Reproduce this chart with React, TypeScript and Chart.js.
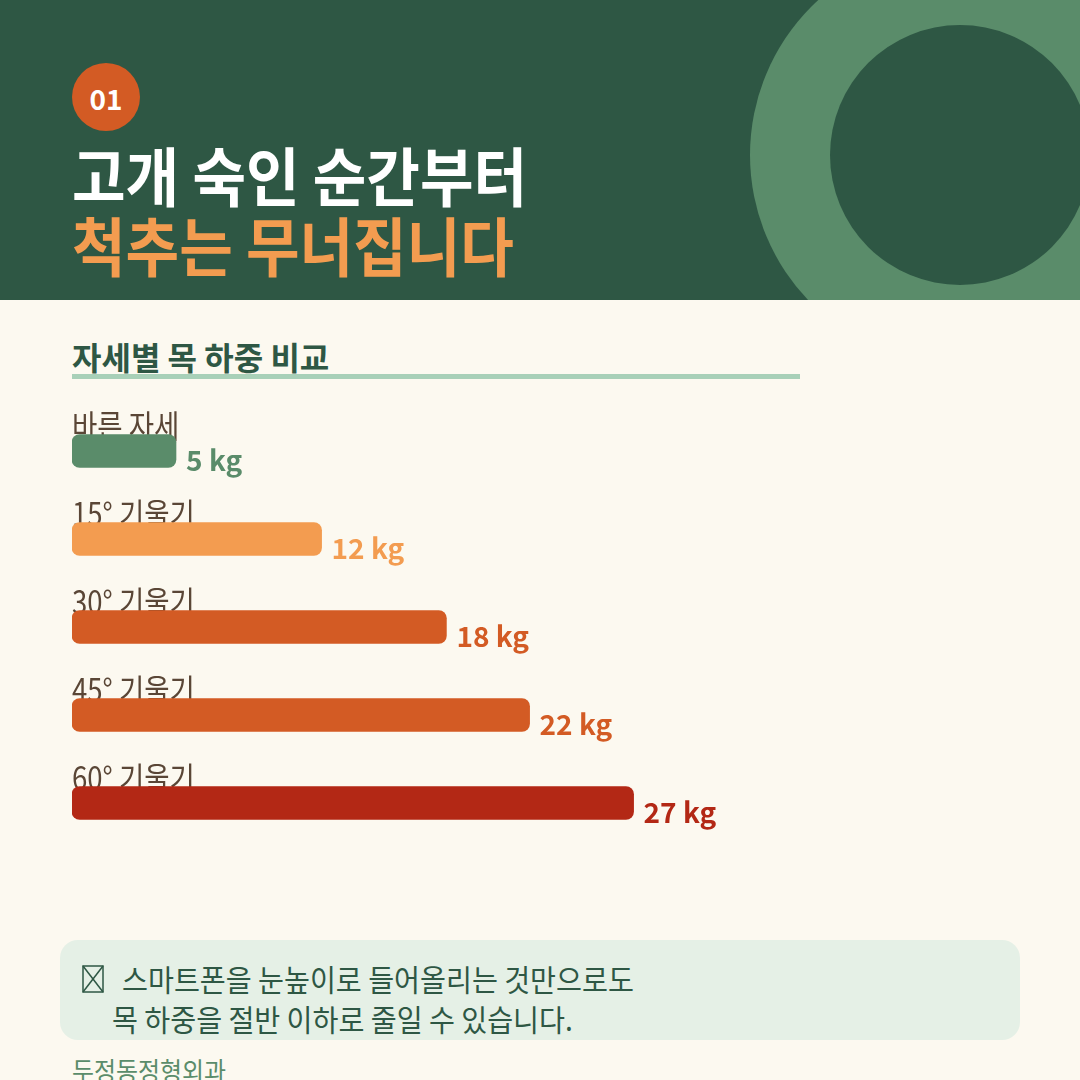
import React, { useEffect, useRef } from "react";
import { Chart, registerables } from "chart.js";

Chart.register(...registerables);

const categories = ["바른 자세", "15° 기울기", "30° 기울기", "45° 기울기", "60° 기울기"];
const loads = [5, 12, 18, 22, 27];
const unit = "kg";
const barColors = ["#5A8C6A", "#F39C50", "#D35B24", "#D35B24", "#B32815"];
const axisMax = 35;

const FONT = '"Noto Sans CJK KR", "Noto Sans", sans-serif';

function Condensed({ children, style, k = 0.84 }: any) {
  return (
    <div style={{ position: "absolute", whiteSpace: "nowrap", transformOrigin: "left top", transform: `scaleX(${k})`, ...style }}>
      {children}
    </div>
  );
}

export default function App() {
  const ref = useRef<HTMLCanvasElement | null>(null);

  useEffect(() => {
    if (!ref.current) return;
    const labelPlugin = {
      id: "labels",
      beforeDatasetsDraw(chart: any) {
        const ctx = chart.ctx;
        const meta = chart.getDatasetMeta(0);
        meta.data.forEach((bar: any, i: number) => {
          const top = bar.y - bar.height / 2;
          ctx.save();
          ctx.translate(bar.base, top + 3);
          ctx.scale(0.86, 1);
          ctx.font = `400 32px ${FONT}`;
          ctx.fillStyle = "#5A4636";
          ctx.textBaseline = "alphabetic";
          ctx.textAlign = "left";
          ctx.fillText(categories[i], 0, 0);
          ctx.restore();
        });
      },
      afterDatasetsDraw(chart: any) {
        const ctx = chart.ctx;
        const meta = chart.getDatasetMeta(0);
        meta.data.forEach((bar: any, i: number) => {
          const bottom = bar.y + bar.height / 2;
          ctx.save();
          ctx.font = `700 28px ${FONT}`;
          ctx.fillStyle = barColors[i];
          ctx.textBaseline = "alphabetic";
          ctx.textAlign = "left";
          ctx.fillText(`${loads[i]} ${unit}`, bar.x + 10, bottom + 3);
          ctx.restore();
        });
      },
    };
    const chart = new Chart(ref.current, {
      type: "bar",
      data: {
        labels: categories,
        datasets: [
          {
            data: loads,
            backgroundColor: barColors,
            borderRadius: 8,
            borderSkipped: false,
            barThickness: 33,
          },
        ],
      },
      options: {
        indexAxis: "y",
        animation: false,
        responsive: false,
        maintainAspectRatio: false,
        layout: { padding: { left: 72, right: 280, top: 7, bottom: 13 } },
        plugins: { legend: { display: false }, tooltip: { enabled: false } },
        scales: {
          x: { display: false, min: 0, max: axisMax },
          y: { display: false },
        },
      },
      plugins: [labelPlugin],
    });
    return () => chart.destroy();
  }, []);

  return (
    <div style={{ position: "fixed", left: 0, top: 0, width: 1080, height: 1080, overflow: "hidden", background: "#FCF9F0", fontFamily: FONT }}>
      <div style={{ position: "absolute", left: 0, top: 0, width: 1080, height: 300, background: "#2E5744", overflow: "hidden" }}>
        <div style={{ position: "absolute", left: 750, top: -55, width: 420, height: 420, borderRadius: "50%", background: "#5A8C6A" }} />
        <div style={{ position: "absolute", left: 830, top: 25, width: 260, height: 260, borderRadius: "50%", background: "#2E5744" }} />
        <div style={{ position: "absolute", left: 72, top: 63, width: 68, height: 68, borderRadius: "50%", background: "#D35B24", color: "#fff", fontWeight: 700, fontSize: 28, lineHeight: "70px", textAlign: "center" }}>01</div>
        <Condensed k={0.91} style={{ left: 72, top: 138, fontSize: 64, lineHeight: "70px", fontWeight: 700, color: "#FFFFFF" }}>고개 숙인 순간부터</Condensed>
        <Condensed k={0.91} style={{ left: 72, top: 208, fontSize: 64, lineHeight: "70px", fontWeight: 700, color: "#F39C50" }}>척추는 무너집니다</Condensed>
      </div>
      <Condensed k={1} style={{ left: 72, top: 336, fontSize: 32, lineHeight: "40px", fontWeight: 700, color: "#2E5744" }}>자세별 목 하중 비교</Condensed>
      <div style={{ position: "absolute", left: 72, top: 374, width: 728, height: 5, background: "#A8D0B8" }} />
      <canvas ref={ref} width={1080} height={460} style={{ position: "absolute", left: 0, top: 400, width: 1080, height: 460 }} />
      <div style={{ position: "absolute", left: 60, top: 940, width: 960, height: 100, borderRadius: 18, background: "#E5F0E6" }} />
      <svg width={22} height={28} viewBox="0 0 22 28" style={{ position: "absolute", left: 82, top: 965 }}>
        <rect x={1} y={1} width={20} height={26} fill="none" stroke="#2E5744" strokeWidth={1.5} />
        <line x1={1} y1={1} x2={21} y2={27} stroke="#2E5744" strokeWidth={1.5} />
        <line x1={21} y1={1} x2={1} y2={27} stroke="#2E5744" strokeWidth={1.5} />
      </svg>
      <Condensed k={0.94} style={{ left: 122, top: 958, fontSize: 30, lineHeight: "40px", color: "#2E5744" }}>스마트폰을 눈높이로 들어올리는 것만으로도</Condensed>
      <Condensed k={0.94} style={{ left: 112, top: 998, fontSize: 30, lineHeight: "40px", color: "#2E5744" }}>목 하중을 절반 이하로 줄일 수 있습니다.</Condensed>
      <Condensed k={0.92} style={{ left: 72, top: 1053, fontSize: 26, lineHeight: "34px", color: "#5A8C6A" }}>두정동정형외과</Condensed>
    </div>
  );
}
